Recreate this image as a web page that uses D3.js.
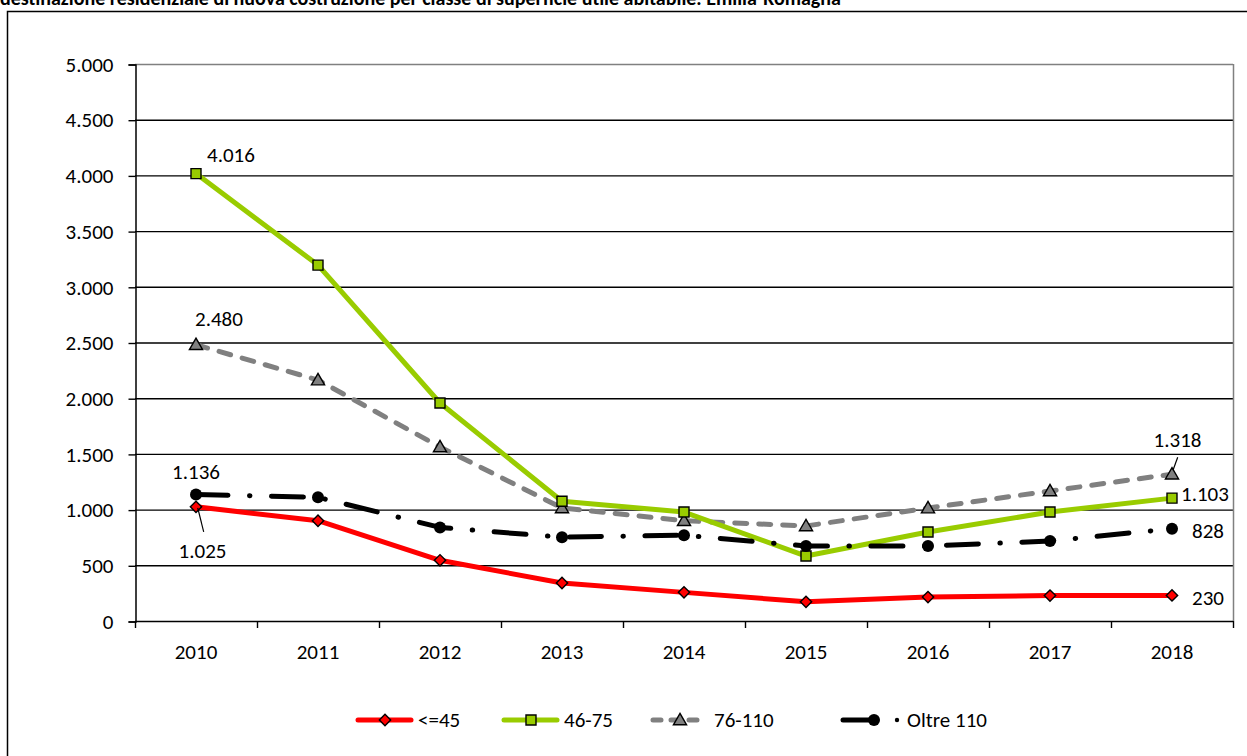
<!DOCTYPE html>
<html>
<head>
<meta charset="utf-8">
<script src="https://cdn.jsdelivr.net/npm/d3@7"></script>
<style>
  body { margin: 0; background: #fff; }
  svg text { font-family: Carlito, Lato, "Open Sans", sans-serif; }
</style>
</head>
<body>
<svg id="chart" width="1247" height="756"></svg>
<script>
// chart data
const years = ["2010", "2011", "2012", "2013", "2014", "2015", "2016", "2017", "2018"];
const upTo45 = [1025, 900, 545, 341, 257, 172, 215, 228, 230];
const from46to75 = [4016, 3195, 1957, 1075, 978, 583, 799, 978, 1103];
const from76to110 = [2480, 2163, 1562, 1015, 900, 853, 1014, 1167, 1318];
const over110 = [1136, 1110, 840, 752, 770, 673, 673, 718, 828];
const yTicks = [0, 500, 1000, 1500, 2000, 2500, 3000, 3500, 4000, 4500, 5000];
const seriesNames = ["<=45", "46-75", "76-110", "Oltre 110"];

const svg = d3.select('#chart');
const fmt = v => d3.format(",")(v).replace(/,/g, ".");
const FS = 21;

// title (cut at the top as in the original)
svg.append('text')
   .attr('x', 0).attr('y', 5)
   .attr('font-size', 20).attr('font-weight', 'bold')
   .text("destinazione residenziale di nuova costruzione per classe di superficie utile abitabile. Emilia-Romagna");

// outer frame
svg.append('rect').attr('x', 7.5).attr('y', 11.5).attr('width', 1260).attr('height', 760)
   .attr('fill', 'none').attr('stroke', '#000').attr('stroke-width', 1.5);

const pLeft = 135, pRight = 1233, pTop = 64, pBottom = 621;
const x = d3.scaleBand().domain(years).range([pLeft, pRight]);
const y = d3.scaleLinear().domain([0, 5000]).range([pBottom, pTop]);
const cx = d => x(d) + x.bandwidth() / 2;

// grid
svg.append('g').selectAll('line').data(yTicks.filter(d => d > 0)).enter().append('line')
   .attr('x1', pLeft).attr('x2', pRight).attr('y1', d => y(d) + 0.5).attr('y2', d => y(d) + 0.5)
   .attr('stroke', d => d === 5000 ? '#808080' : '#000').attr('stroke-width', 1.4);
svg.append('line').attr('x1', pRight + 0.5).attr('x2', pRight + 0.5).attr('y1', pTop).attr('y2', pBottom)
   .attr('stroke', '#808080').attr('stroke-width', 1.5);

// axes
const yAxis = d3.axisLeft(y).tickValues(yTicks).tickFormat(fmt).tickSize(7).tickPadding(15);
const gy = svg.append('g').attr('transform', `translate(${pLeft + 0.5},0.5)`).call(yAxis);
const xAxis = d3.axisBottom(x).tickSize(0).tickPadding(23);
const gx = svg.append('g').attr('transform', `translate(0,${pBottom + 0.5})`).call(xAxis);
[gx, gy].forEach(g => {
  g.select('.domain').attr('stroke', '#000').attr('stroke-width', 1.5);
  g.selectAll('line').attr('stroke', '#000').attr('stroke-width', 1.4);
  g.selectAll('text').attr('font-size', FS).attr('fill', '#000')
   .attr('font-family', 'Carlito, Lato, "Open Sans", sans-serif');
});
gx.select('.domain').attr('d', `M${pLeft},0H${pRight}`);
// category boundary ticks
svg.append('g').selectAll('line').data(years.map(d => x(d)).concat([pRight])).enter().append('line')
   .attr('x1', d => d + 0.5).attr('x2', d => d + 0.5).attr('y1', pBottom).attr('y2', pBottom + 7)
   .attr('stroke', '#000').attr('stroke-width', 1.4);

const line = d3.line().x((d, i) => cx(years[i])).y(d => y(d));

const square = d3.symbol().type(d3.symbolSquare).size(100);
const triangle = d3.symbol().type(d3.symbolTriangle).size(75);
const diamond = d3.symbol().type(d3.symbolSquare).size(64);

const series = [
  { name: seriesNames[0], vals: upTo45, color: '#ff0000', dash: null, shape: 'diamond', fill: '#ff0000', cap: 'round' },
  { name: seriesNames[1], vals: from46to75, color: '#99cc00', dash: null, shape: 'square', fill: '#99cc00', cap: 'round' },
  { name: seriesNames[2], vals: from76to110, color: '#808080', dash: '12,12', shape: 'triangle', fill: '#808080', cap: 'round' },
  { name: seriesNames[3], vals: over110, color: '#000', dash: '32,21.5,0.5,21.5', shape: 'circle', fill: '#000', cap: 'round' }
];

function marker(g, s, px, py) {
  if (s.shape === 'circle') {
    g.append('circle').attr('cx', px).attr('cy', py).attr('r', 6).attr('fill', '#000');
  } else {
    const sym = s.shape === 'diamond' ? diamond : s.shape === 'square' ? square : triangle;
    g.append('path').attr('d', sym())
     .attr('transform', `translate(${px},${py + (s.shape === 'triangle' ? 1 : 0)})` + (s.shape === 'diamond' ? ' rotate(45)' : ''))
     .attr('fill', s.fill).attr('stroke', '#000').attr('stroke-width', 1.4);
  }
}

// draw order: 76-110, 46-75, oltre, <=45
[2, 1, 3, 0].forEach(k => {
  const s = series[k];
  const g = svg.append('g');
  g.append('path').datum(s.vals).attr('d', line).attr('fill', 'none')
   .attr('stroke', s.color).attr('stroke-width', 5)
   .attr('stroke-dasharray', s.dash).attr('stroke-linecap', s.cap).attr('stroke-linejoin', 'round');
  s.vals.forEach((v, i) => marker(g, s, cx(years[i]), y(v)));
});

// data labels
const labels = [
  { s: 1, i: 0, dx: 11, dy: -12, anchor: 'start' },
  { s: 2, i: 0, dx: -1, dy: -19, anchor: 'start' },
  { s: 3, i: 0, dx: 0, dy: -15, anchor: 'middle' },
  { s: 0, i: 0, dx: 6.5, dy: 51, anchor: 'middle', leader: [[1.7, 1], [7.7, 25]] },
  { s: 2, i: 8, dx: 5.5, dy: -27, anchor: 'middle', leader: [[5.7, -17], [1, -4]] },
  { s: 1, i: 8, dx: 9, dy: 3, anchor: 'start' },
  { s: 3, i: 8, dx: 20, dy: 9.5, anchor: 'start' },
  { s: 0, i: 8, dx: 20, dy: 10, anchor: 'start' }
];
labels.forEach(l => {
  const s = series[l.s];
  const px = cx(years[l.i]), py = y(s.vals[l.i]);
  svg.append('text').attr('x', px + l.dx).attr('y', py + l.dy)
     .attr('text-anchor', l.anchor).attr('font-size', FS).text(fmt(s.vals[l.i]));
  if (l.leader) {
    svg.append('line').attr('x1', px + l.leader[0][0]).attr('y1', py + l.leader[0][1])
       .attr('x2', px + l.leader[1][0]).attr('y2', py + l.leader[1][1])
       .attr('stroke', '#000').attr('stroke-width', 1.2);
  }
});

// legend
const legY = 720;
const legX = [356, 502, 651, 841];
series.forEach((s, k) => {
  const g = svg.append('g');
  const x0 = legX[k];
  if (k < 3) {
    g.append('line').attr('x1', x0 + 2).attr('x2', x0 + 55).attr('y1', legY).attr('y2', legY)
     .attr('stroke', s.color).attr('stroke-width', 5).attr('stroke-linecap', 'round')
     .attr('stroke-dasharray', k === 2 ? '8,10' : null);
    marker(g, s, x0 + 29, legY);
    g.append('text').attr('x', x0 + (k === 2 ? 63 : 62)).attr('y', legY + 7).attr('font-size', FS).text(s.name);
  } else {
    g.append('line').attr('x1', x0 + 2).attr('x2', x0 + 32).attr('y1', legY).attr('y2', legY)
     .attr('stroke', '#000').attr('stroke-width', 5).attr('stroke-linecap', 'round');
    marker(g, s, x0 + 33, legY);
    g.append('circle').attr('cx', x0 + 56).attr('cy', legY).attr('r', 2.2).attr('fill', '#000');
    g.append('text').attr('x', x0 + 66).attr('y', legY + 7).attr('font-size', FS).text(s.name);
  }
});
</script>
</body>
</html>
